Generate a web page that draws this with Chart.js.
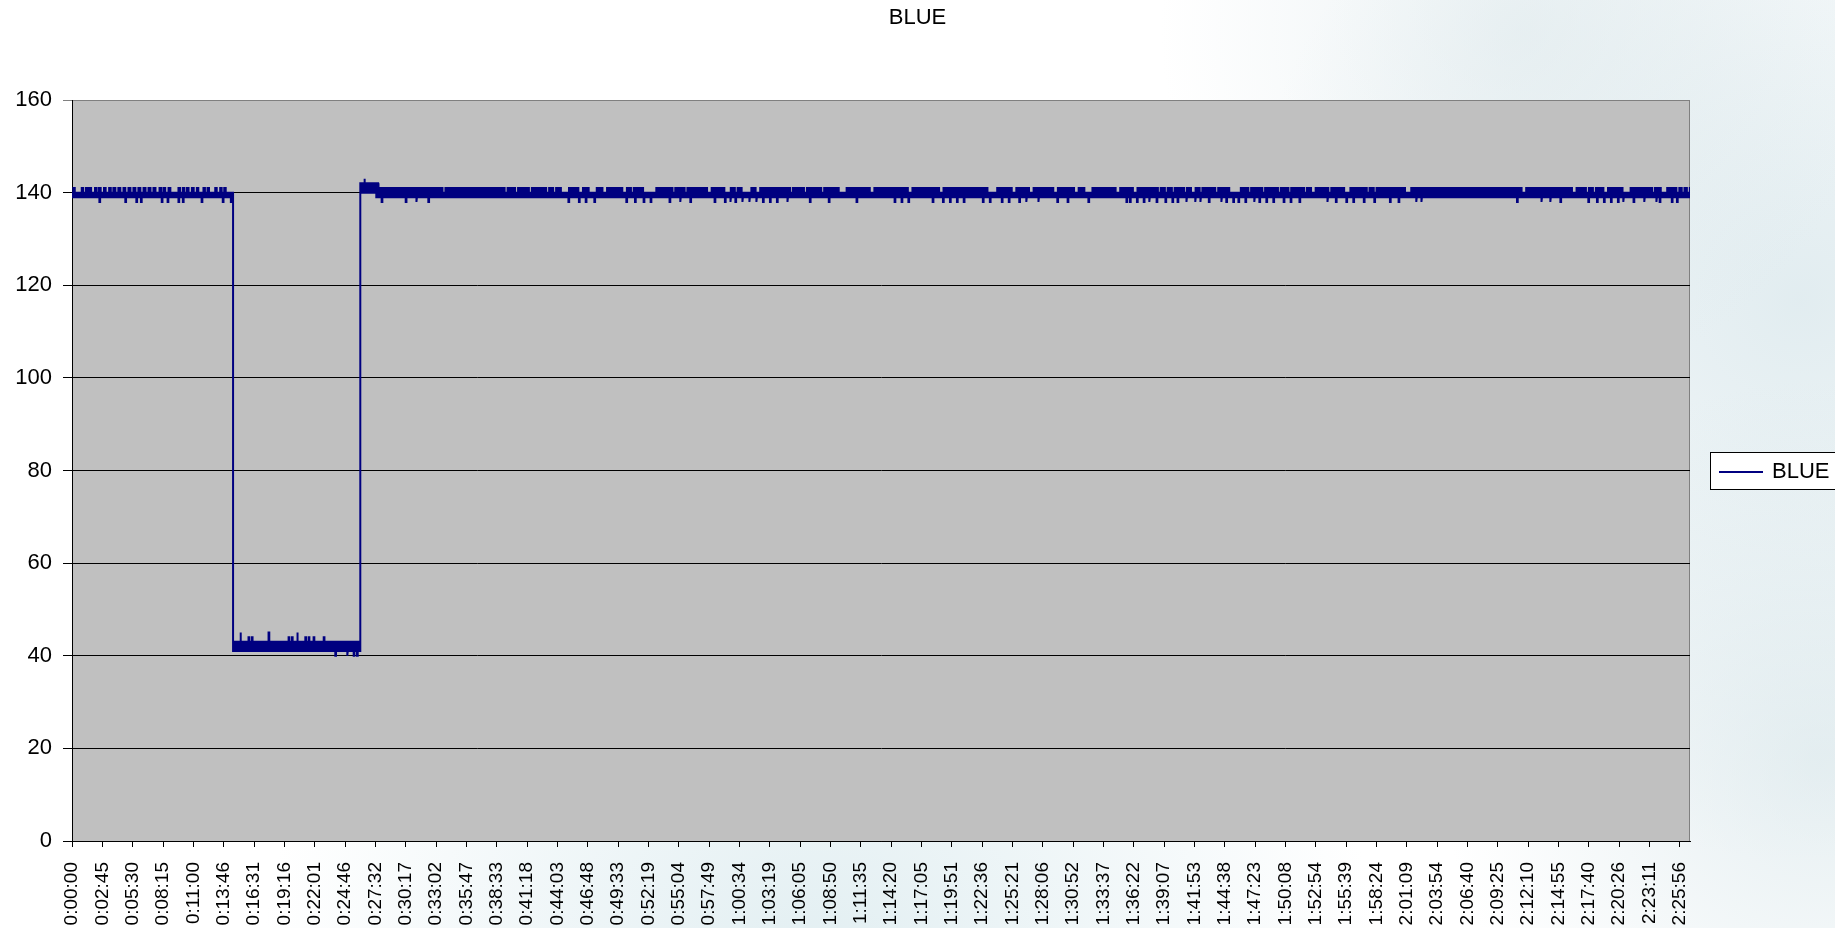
<!DOCTYPE html>
<html><head><meta charset="utf-8">
<script src="https://cdn.jsdelivr.net/npm/chart.js@4.4.0/dist/chart.umd.min.js"></script>
<style>html,body{margin:0;padding:0;background:#fff;} #wrap{width:1835px;height:928px;position:relative;}</style>
</head><body><div id="wrap"><canvas id="c"></canvas></div>
<script>
// ---- data (x in sample index ~ seconds) ----
const tickLabels = ["0:00:00","0:02:45","0:05:30","0:08:15","0:11:00","0:13:46","0:16:31","0:19:16","0:22:01","0:24:46","0:27:32","0:30:17","0:33:02","0:35:47","0:38:33","0:41:18","0:44:03","0:46:48","0:49:33","0:52:19","0:55:04","0:57:49","1:00:34","1:03:19","1:06:05","1:08:50","1:11:35","1:14:20","1:17:05","1:19:51","1:22:36","1:25:21","1:28:06","1:30:52","1:33:37","1:36:22","1:39:07","1:41:53","1:44:38","1:47:23","1:50:08","1:52:54","1:55:39","1:58:24","2:01:09","2:03:54","2:06:40","2:09:25","2:12:10","2:14:55","2:17:40","2:20:26","2:23:11","2:25:56"];
const tickEvery = 165;
const xMax = 8800;
const yTicks = [0,20,40,60,80,100,120,140,160];

// steady levels of the signal (band between bottom and top)
const segStart  = [0, 876, 1568, 1665];
const segEnd    = [876, 1568, 1665, 8800];
const segTop    = [140, 43, 142, 140];
const segBottom = [139, 41, 140, 139];

// stretches where the signal reaches 141
const runs141 = [[7,15],[53,61],[76,84],[94,104],[125,134],[147,156],[174,183],[202,211],[225,236],[252,263],[280,290],[307,318],[334,345],[361,372],[389,400],[416,427],[443,454],[476,484],[497,507],[525,535],[579,588],[603,611],[625,634],[652,662],[679,687],[715,723],[737,745],[779,787],[806,814],[828,836],
[1668,2015],[2031,2353],[2369,2410],[2426,2485],[2501,2579],[2595,2617],[2633,2659],[2703,2754],[2779,2810],[2854,2885],[2910,2993],[3018,3040],[3055,3106],[3178,3266],[3281,3332],[3347,3454],[3479,3548],[3583,3605],[3620,3642],[3695,3718],[3743,3906],[3921,3981],[3997,4075],[4091,4170],[4213,4339],[4364,4546],[4571,4716],[4740,4979],[5032,5111],[5136,5205],[5230,5337],[5362,5450],[5475,5506],[5550,5676],[5701,5770],[5795,5906],[5921,5944],[5959,5982],[5997,6048],[6063,6086],[6111,6133],[6148,6218],[6234,6294],[6357,6398],[6413,6474],[6489,6559],[6574,6616],[6631,6701],[6716,6739],[6764,6833],[6849,6919],[6953,7042],[7057,7080],[7095,7250],[7284,7884],[7909,8158],[8183,8234],[8250,8272],[8288,8329],[8354,8433],[8477,8594],[8609,8641],[8676,8726],[8742,8755],[8770,8783],[8799,8800]];

// single high samples [time, value]
const spikes = [[915,45],[960,44],[978,44],[1069,45],[1178,44],[1196,44],[1224,45],[1269,44],[1287,44],[1314,44],[1369,44],[1589,143]];

// single low samples
const dip138 = [149,290,350,375,488,520,579,603,705,820,864,1684,1815,1872,1938,2700,2757,2794,2841,3015,3062,3109,3147,3250,3307,3363,3495,3551,3580,3608,3645,3683,3721,3758,3796,3834,3890,4013,4116,4267,4474,4512,4549,4681,4737,4775,4813,4850,4954,4992,5057,5095,5152,5189,5255,5359,5415,5528,5735,5754,5792,5829,5858,5899,5947,5985,6013,6060,6108,6136,6183,6250,6278,6316,6344,6382,6429,6458,6496,6534,6590,6628,6676,6827,6874,6931,6969,7026,7083,7168,7215,7310,7338,7859,7991,8039,8095,8247,8294,8332,8370,8408,8436,8493,8550,8616,8635,8701,8729];
const dip139 = [1655];
const dip40 = [1432,1496,1532,1550];

// ---- build envelope polygon from the arrays ----
const sampleWidth = 4;
const upEvents = runs141.map(([s,e]) => ({s, e, v:141}))
  .concat(spikes.map(([t,v]) => ({s:t, e:t+sampleWidth, v})))
  .sort((a,b) => a.s - b.s);
const downEvents = dip138.map(t => ({s:t, e:t+sampleWidth, v:138}))
  .concat(dip139.map(t => ({s:t, e:t+sampleWidth, v:139})))
  .concat(dip40.map(t => ({s:t, e:t+sampleWidth, v:40})))
  .sort((a,b) => a.s - b.s);

function edge(levels, events) {
  const pts = [];
  segStart.forEach((s0, i) => {
    const e0 = segEnd[i], lv = levels[i];
    pts.push({x:s0, y:lv});
    events.filter(ev => ev.s >= s0 && ev.s < e0).forEach(ev => {
      const e = Math.min(ev.e, e0);
      pts.push({x:ev.s, y:lv}, {x:ev.s, y:ev.v}, {x:e, y:ev.v}, {x:e, y:lv});
    });
    pts.push({x:e0, y:lv});
  });
  return pts;
}
const upper = edge(segTop, upEvents);
const lower = edge(segBottom, downEvents).reverse();
const polygon = upper.concat(lower);

Chart.defaults.font.family = '"Liberation Sans", Arial, sans-serif';
Chart.defaults.color = '#000';

const decor = {
  id: 'decor',
  beforeDraw(chart) {
    const {ctx, chartArea: a, width, height} = chart;
    ctx.save();
    ctx.fillStyle = '#fff'; ctx.fillRect(0, 0, width, height);
    const blobs = [[1800, 300, 560, 'rgba(196,218,225,', 0.5], [1520, 30, 360, 'rgba(212,226,230,', 0.45], [820, 990, 560, 'rgba(200,224,230,', 0.55], [1820, 760, 380, 'rgba(205,223,228,', 0.5]];
    blobs.forEach(([x, y, r, c, o]) => {
      const g = ctx.createRadialGradient(x, y, 0, x, y, r);
      g.addColorStop(0, c + o + ')'); g.addColorStop(1, c + '0)');
      ctx.fillStyle = g; ctx.fillRect(0, 0, width, height);
    });
    ctx.fillStyle = '#C0C0C0';
    ctx.fillRect(a.left, a.top, a.right - a.left, a.bottom - a.top);
    ctx.strokeStyle = '#808080'; ctx.lineWidth = 1;
    ctx.strokeRect(a.left + 0.5, a.top + 0.5, a.right - a.left - 1, a.bottom - a.top);
    ctx.restore();
  },
  afterDraw(chart) {
    const {ctx} = chart;
    const ds = chart.data.datasets[0];
    ctx.save();
    ctx.font = '22px "Liberation Sans", Arial, sans-serif';
    ctx.fillStyle = '#000'; ctx.textAlign = 'center'; ctx.textBaseline = 'middle';
    ctx.fillText(ds.label, 917.5, 18);
    // legend
    ctx.fillStyle = '#fff';
    ctx.fillRect(1710.5, 452.5, 140, 37);
    ctx.strokeStyle = '#000'; ctx.lineWidth = 1;
    ctx.strokeRect(1710.5, 452.5, 140, 37);
    ctx.strokeStyle = ds.borderColor; ctx.lineWidth = 2;
    ctx.beginPath(); ctx.moveTo(1719, 472); ctx.lineTo(1763, 472); ctx.stroke();
    ctx.fillStyle = '#000'; ctx.textAlign = 'left';
    ctx.fillText(ds.label, 1772, 472);
    ctx.restore();
  }
};

new Chart(document.getElementById('c'), {
  type: 'line',
  data: {
    datasets: [{
      label: 'BLUE',
      data: polygon,
      borderColor: '#000080',
      backgroundColor: '#000080',
      borderWidth: 2,
      fill: 'shape',
      pointRadius: 0,
      tension: 0
    }]
  },
  plugins: [decor],
  options: {
    responsive: true,
    maintainAspectRatio: false,
    animation: false,
    devicePixelRatio: 1,
    layout: { padding: { top: 100, right: 145, left: 0, bottom: 0 } },
    plugins: { legend: { display: false }, title: { display: false }, tooltip: { enabled: false } },
    scales: {
      x: {
        type: 'linear', min: 0, max: xMax,
        afterBuildTicks: s => { s.ticks = tickLabels.map((_, i) => ({ value: i * tickEvery })); },
        afterFit: s => { s.height = 87; },
        grid: { drawOnChartArea: false, drawTicks: true, tickLength: 6, color: '#000' },
        border: { display: true, color: '#000', width: 1 },
        ticks: { autoSkip: false, maxRotation: 90, minRotation: 90, padding: 15,
          font: { size: 19 }, color: '#000', callback: (v, i) => tickLabels[i] }
      },
      y: {
        min: 0, max: 160,
        afterBuildTicks: s => { s.ticks = yTicks.map(v => ({ value: v })); },
        afterFit: s => { s.width = 72; },
        grid: { color: c => (c.tick && c.tick.value === 160 ? '#808080' : '#000'), tickLength: 9, drawTicks: true },
        border: { display: true, color: '#000', width: 1 },
        ticks: { padding: 11, font: { size: 22 }, color: '#000' }
      }
    }
  }
});
</script></body></html>
